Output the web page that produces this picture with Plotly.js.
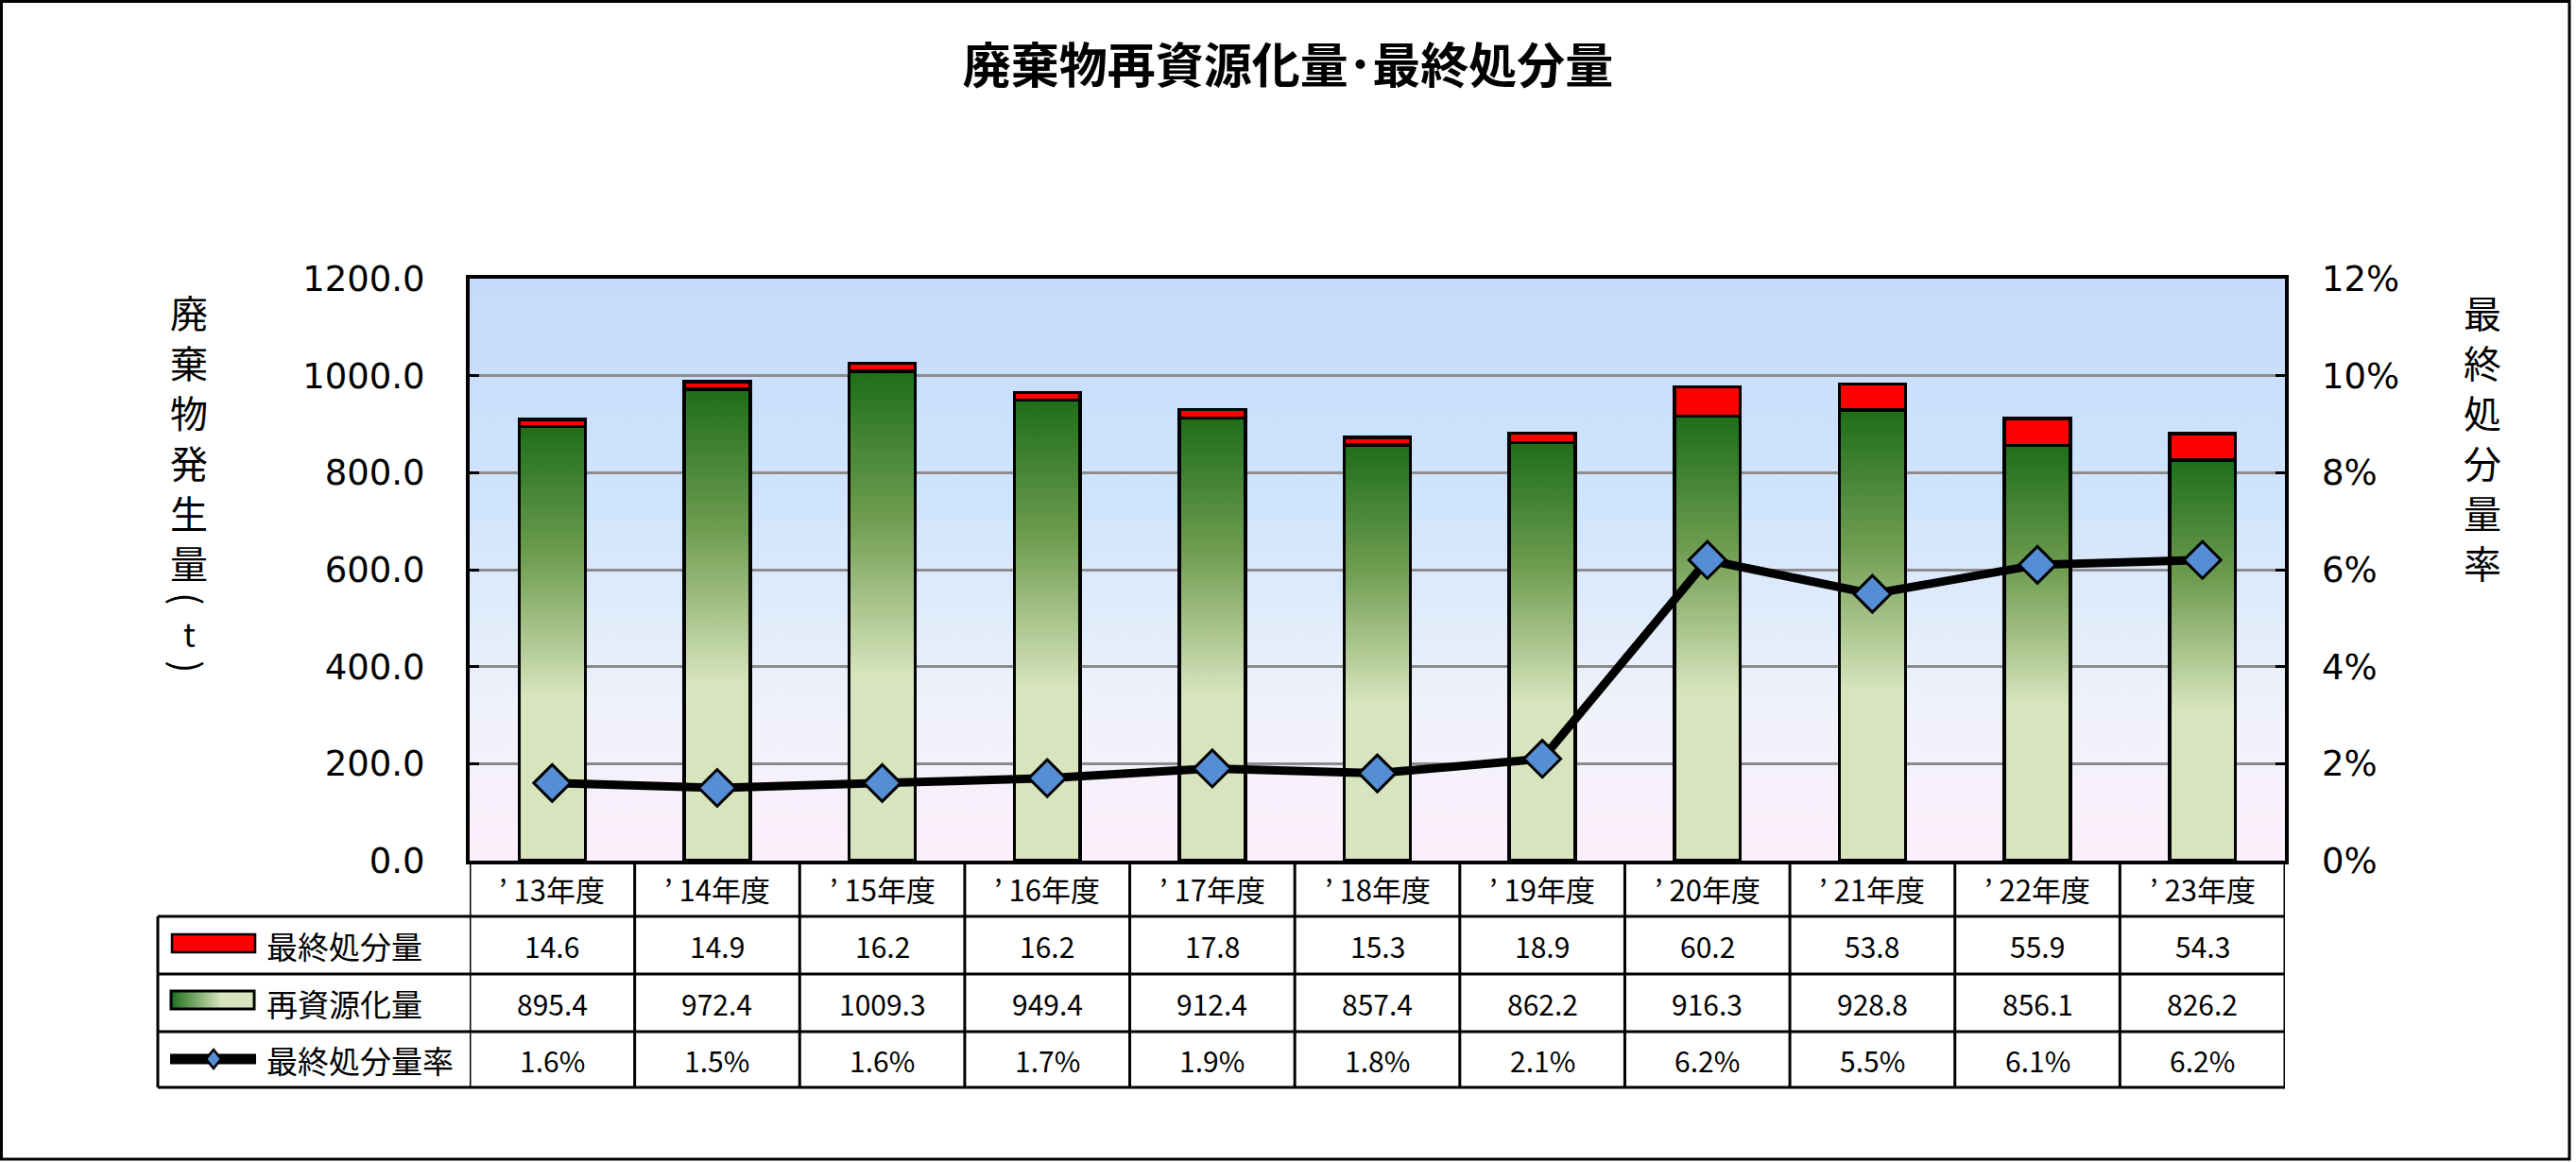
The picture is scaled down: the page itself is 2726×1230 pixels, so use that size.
<!DOCTYPE html>
<html>
<head>
<meta charset="utf-8">
<script src="https://cdn.plot.ly/plotly-3.0.1.min.js"></script>
<style>
  html, body { margin: 0; padding: 0; background: #ffffff; }
  #chart { width: 2726px; height: 1230px; }
</style>
</head>
<body>
<div id="chart"></div>
<script>
// ---- data ----
const categories = ['’13年度', '’14年度', '’15年度', '’16年度', '’17年度', '’18年度', '’19年度', '’20年度', '’21年度', '’22年度', '’23年度'];
const disposal = [14.6, 14.9, 16.2, 16.2, 17.8, 15.3, 18.9, 60.2, 53.8, 55.9, 54.3];
const recycled = [895.4, 972.4, 1009.3, 949.4, 912.4, 857.4, 862.2, 916.3, 928.8, 856.1, 826.2];
const rate = [1.6, 1.5, 1.6, 1.7, 1.9, 1.8, 2.1, 6.2, 5.5, 6.1, 6.2];
const seriesNames = ['最終処分量', '再資源化量', '最終処分量率'];
const titleText = '廃棄物再資源化量･最終処分量';
const leftTitleMain = ['廃', '棄', '物', '発', '生', '量'];
const leftTitleUnit = ['(', 't', ')'];
const rightTitleChars = ['最', '終', '処', '分', '量', '率'];

// ---- style / geometry ----
const W = 2726, H = 1230;
const PL = 497, PR = 2418, PT = 295, PB = 911;
const pw = PR - PL, ph = PB - PT;
const px = v => (v - PL) / pw;
const py = v => (PB - v) / ph;
const CJK = '"Noto Sans CJK JP", "Noto Sans", sans-serif';
const NUM = '"DejaVu Sans", sans-serif';

const rowLines = [970, 1031, 1092, 1151];
const rowCenters = [940.5, 1000.5, 1061.5, 1121.5];

function svgUri(s) { return 'data:image/svg+xml;charset=utf-8,' + encodeURIComponent(s); }
const bgSvg = "<svg xmlns='http://www.w3.org/2000/svg' width='10' height='100' viewBox='0 0 10 100' preserveAspectRatio='none'><defs><linearGradient id='g' x1='0' y1='0' x2='0' y2='1'><stop offset='0' stop-color='#c6dafb'/><stop offset='0.4' stop-color='#d0e5fc'/><stop offset='0.75' stop-color='#f0f2fa'/><stop offset='1' stop-color='#fdeffb'/></linearGradient></defs><rect width='10' height='100' fill='url(#g)'/></svg>";
const swSvg = "<svg xmlns='http://www.w3.org/2000/svg' width='100' height='10' viewBox='0 0 100 10' preserveAspectRatio='none'><defs><linearGradient id='h' x1='0' y1='0' x2='1' y2='0'><stop offset='0' stop-color='#1e6e1a'/><stop offset='0.6' stop-color='#d7e4bd'/><stop offset='1' stop-color='#d7e4bd'/></linearGradient></defs><rect width='100' height='10' fill='url(#h)'/></svg>";

const traces = [
  {
    type: 'bar', name: seriesNames[1], x: categories, y: recycled,
    width: 0.4,
    marker: { color: '#7ba96c', line: { color: '#000', width: 3.5 } },
    hoverinfo: 'skip'
  },
  {
    type: 'bar', name: seriesNames[0], x: categories, y: disposal,
    width: 0.4,
    marker: { color: '#ff0000', line: { color: '#000', width: 3.5 } },
    hoverinfo: 'skip'
  },
  {
    type: 'scatter', name: seriesNames[2], x: categories, y: rate, yaxis: 'y2',
    mode: 'lines+markers',
    line: { color: '#000', width: 9 },
    marker: { symbol: 'diamond', size: 30, color: '#558ed5', line: { color: '#000', width: 3 } },
    cliponaxis: false,
    hoverinfo: 'skip'
  }
];

const shapes = [];
const annotations = [];

// outer border
shapes.push({ type: 'rect', xref: 'paper', yref: 'paper', x0: px(1.5), x1: px(2719), y0: py(1227), y1: py(1.5), line: { color: '#000', width: 3 } });

// table horizontal lines
rowLines.forEach(v => {
  shapes.push({ type: 'line', xref: 'paper', yref: 'paper', x0: px(167), x1: 1, y0: py(v), y1: py(v), line: { color: '#000', width: 3 } });
});
// legend column left edge
shapes.push({ type: 'line', xref: 'paper', yref: 'paper', x0: px(167), x1: px(167), y0: py(rowLines[0]), y1: py(rowLines[3]), line: { color: '#000', width: 3 } });
// category column boundaries
for (let k = 0; k <= categories.length; k++) {
  shapes.push({ type: 'line', xref: 'x', yref: 'paper', x0: k - 0.5, x1: k - 0.5, y0: 0, y1: py(rowLines[3]), line: { color: '#000', width: 3 } });
}
// legend swatches
shapes.push({ type: 'rect', xref: 'paper', yref: 'paper', x0: px(182), x1: px(270), y0: py(1008), y1: py(989), fillcolor: '#ff0000', line: { color: '#000', width: 2.5 } });
shapes.push({ type: 'rect', xref: 'paper', yref: 'paper', x0: px(181), x1: px(269), y0: py(1068), y1: py(1049), line: { color: '#000', width: 3 }, layer: 'above' });
shapes.push({ type: 'line', xref: 'paper', yref: 'paper', x0: px(180), x1: px(271), y0: py(1121), y1: py(1121), line: { color: '#000', width: 11 } });
shapes.push({ type: 'path', xref: 'paper', yref: 'paper', xsizemode: 'pixel', ysizemode: 'pixel', xanchor: px(226), yanchor: py(1121), path: 'M0,10 L8,0 L0,-10 L-8,0 Z', fillcolor: '#558ed5', line: { color: '#000', width: 2.5 } });

// legend labels
seriesNames.forEach((t, i) => {
  annotations.push({ xref: 'paper', yref: 'paper', x: px(280), y: py(rowCenters[i + 1]), xanchor: 'left', yanchor: 'middle', text: t, showarrow: false, font: { family: CJK, size: 33, color: '#000' } });
});

// table cells
categories.forEach((c, i) => {
  annotations.push({ xref: 'x', yref: 'paper', x: c, y: py(rowCenters[0]), yanchor: 'middle', text: c.replace('’', '’ '), showarrow: false, font: { family: CJK, size: 31, color: '#000' } });
  annotations.push({ xref: 'x', yref: 'paper', x: c, y: py(rowCenters[1]), yanchor: 'middle', text: disposal[i].toFixed(1), showarrow: false, font: { family: CJK, size: 30, color: '#000' } });
  annotations.push({ xref: 'x', yref: 'paper', x: c, y: py(rowCenters[2]), yanchor: 'middle', text: recycled[i].toFixed(1), showarrow: false, font: { family: CJK, size: 30, color: '#000' } });
  annotations.push({ xref: 'x', yref: 'paper', x: c, y: py(rowCenters[3]), yanchor: 'middle', text: rate[i].toFixed(1) + '%', showarrow: false, font: { family: CJK, size: 30, color: '#000' } });
});

// vertical axis titles (one character per line, stacked)
const charY = [330, 383, 436, 489, 542, 595];
leftTitleMain.forEach((ch, i) => {
  annotations.push({ xref: 'paper', yref: 'paper', x: px(200), y: py(charY[i]), xanchor: 'center', yanchor: 'middle', text: ch, showarrow: false, font: { family: CJK, size: 40, color: '#000' } });
});
const unitY = [634, 670, 706];
leftTitleUnit.forEach((ch, i) => {
  const rot = (ch === 't') ? 0 : 90;
  annotations.push({ xref: 'paper', yref: 'paper', x: px(200), y: py(unitY[i]), xanchor: 'center', yanchor: 'middle', text: ch, textangle: rot, showarrow: false, font: { family: CJK, size: (ch === 't') ? 34 : 40, color: '#000' } });
});
rightTitleChars.forEach((ch, i) => {
  annotations.push({ xref: 'paper', yref: 'paper', x: px(2627), y: py(charY[i]), xanchor: 'center', yanchor: 'middle', text: ch, showarrow: false, font: { family: CJK, size: 40, color: '#000' } });
});

const layout = {
  width: W, height: H,
  margin: { l: PL, r: W - PR, t: PT, b: H - PB, pad: 0 },
  paper_bgcolor: '#ffffff',
  plot_bgcolor: 'rgba(0,0,0,0)',
  showlegend: false,
  barmode: 'stack',
  title: {
    text: titleText,
    font: { family: CJK, size: 51, color: '#000', weight: 'bold' },
    xref: 'container', x: 0.5, xanchor: 'center',
    yref: 'container', y: 1 - 70 / H, yanchor: 'middle'
  },
  xaxis: {
    type: 'category', range: [-0.5, categories.length - 0.5],
    showticklabels: false, ticks: '', showgrid: false, zeroline: false,
    showline: true, linecolor: '#000', linewidth: 4, mirror: true
  },
  yaxis: {
    range: [0, 1200], dtick: 200, tickformat: '.1f',
    showgrid: true, gridcolor: '#8c8c8c', gridwidth: 3, zeroline: false,
    showline: true, linecolor: '#000', linewidth: 4, mirror: true,
    ticks: 'inside', ticklen: 10, tickwidth: 3, tickcolor: '#000',
    ticklabelstandoff: 36,
    tickfont: { family: NUM, size: 37, color: '#000' }
  },
  yaxis2: {
    overlaying: 'y', side: 'right', range: [0, 12], dtick: 2, ticksuffix: '%',
    showgrid: false, zeroline: false, showline: false,
    ticks: 'inside', ticklen: 10, tickwidth: 3, tickcolor: '#000',
    ticklabelstandoff: 38,
    tickfont: { family: NUM, size: 37, color: '#000' }
  },
  images: [
    { source: svgUri(bgSvg), xref: 'paper', yref: 'paper', x: 0, y: 1, sizex: 1, sizey: 1, xanchor: 'left', yanchor: 'top', sizing: 'stretch', layer: 'below' },
    { source: svgUri(swSvg), xref: 'paper', yref: 'paper', x: px(181), y: py(1049), sizex: px(269) - px(181), sizey: py(1049) - py(1068), xanchor: 'left', yanchor: 'top', sizing: 'stretch', layer: 'above' }
  ],
  shapes: shapes,
  annotations: annotations
};

const gd = document.getElementById('chart');
Plotly.newPlot(gd, traces, layout, { staticPlot: true, displayModeBar: false }).then(function () {
  const ns = 'http://www.w3.org/2000/svg';
  const svg = gd.querySelector('svg.main-svg');
  let defs = svg.querySelector('defs');
  if (!defs) { defs = document.createElementNS(ns, 'defs'); svg.insertBefore(defs, svg.firstChild); }
  const lg = document.createElementNS(ns, 'linearGradient');
  lg.setAttribute('id', 'recGrad');
  lg.setAttribute('x1', '0'); lg.setAttribute('y1', '0');
  lg.setAttribute('x2', '0'); lg.setAttribute('y2', '1');
  [['0', '#1e6e1a'], ['0.3', '#6f9d50'], ['0.62', '#d7e4bd'], ['1', '#d7e4bd']].forEach(function (s) {
    const st = document.createElementNS(ns, 'stop');
    st.setAttribute('offset', s[0]);
    st.setAttribute('stop-color', s[1]);
    lg.appendChild(st);
  });
  defs.appendChild(lg);
  const barTraces = gd.querySelectorAll('.barlayer .trace.bars');
  if (barTraces.length) {
    barTraces[0].querySelectorAll('path').forEach(function (p) { p.style.fill = 'url(#recGrad)'; });
  }
});
</script>
</body>
</html>
